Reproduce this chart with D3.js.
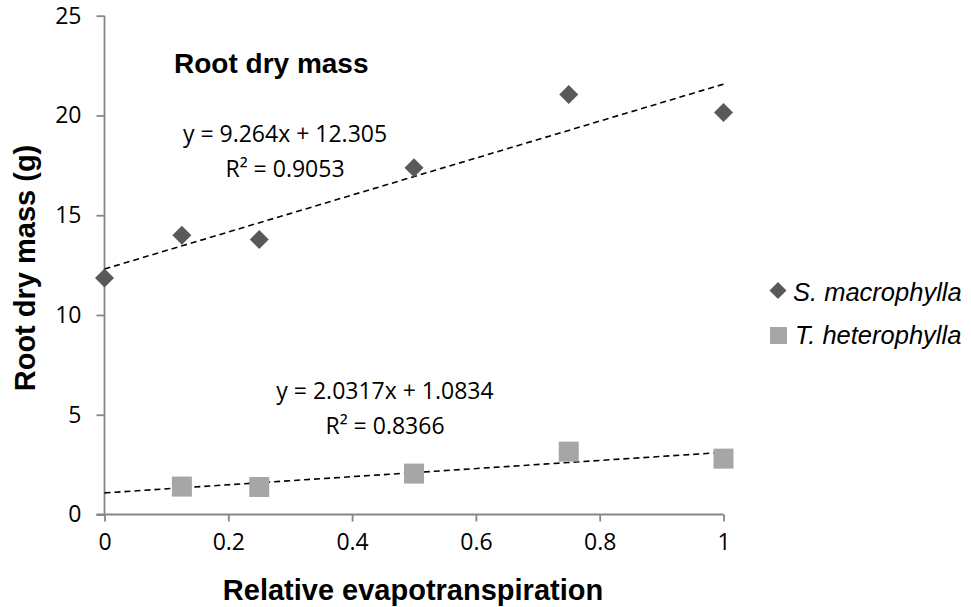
<!DOCTYPE html>
<html>
<head>
<meta charset="utf-8">
<script src="https://cdn.jsdelivr.net/npm/d3@7"></script>
<style>
  html, body { margin: 0; padding: 0; background: #fff; }
  svg { display: block; }
</style>
</head>
<body>
<svg id="chart" width="971" height="607"></svg>
<script>
// Relative evapotranspiration levels and root dry mass (g) per species
const sMacroX = [0, 0.125, 0.25, 0.5, 0.75, 1];
const sMacroY = [11.85, 14.0, 13.78, 17.38, 21.05, 20.15];
const tHeteroX = [0.125, 0.25, 0.5, 0.75, 1];
const tHeteroY = [1.4, 1.38, 2.05, 3.15, 2.8];

// Linear trend lines (slope, intercept) and their labels
const sMacroFit = [9.264, 12.305];
const tHeteroFit = [2.0317, 1.0834];
const sMacroEq = ["y = 9.264x + 12.305", "R\u00B2 = 0.9053"];
const tHeteroEq = ["y = 2.0317x + 1.0834", "R\u00B2 = 0.8366"];

const xTicks = [0, 0.2, 0.4, 0.6, 0.8, 1];
const yTicks = [0, 5, 10, 15, 20, 25];
const seriesNames = ["S. macrophylla", "T. heterophylla"];

const chartTitle = "Root dry mass";
const xTitle = "Relative evapotranspiration";
const yTitle = "Root dry mass (g)";

const svg = d3.select("#chart");
const axisColor = "#868686";
const diamondColor = "#595959";
const squareColor = "#a6a6a6";
const numFont = "'Open Sans', 'Noto Sans', sans-serif";
const boldFont = "'Liberation Sans', Arial, sans-serif";

const x = d3.scaleLinear().domain([0, 1]).range([104.5, 723.5]);
const y = d3.scaleLinear().domain([0, 25]).range([514.5, 15.7]);

// Y axis
const yAxis = svg.append("g")
  .attr("transform", `translate(${x(0)},0)`)
  .call(d3.axisLeft(y).tickValues(yTicks).tickFormat(d3.format("d")).tickSize(8).tickPadding(15));
yAxis.select(".domain").attr("stroke", axisColor).attr("stroke-width", 1.8).attr("d", `M0,${y(25)}V${y(0)}`);
yAxis.selectAll(".tick line").attr("stroke", axisColor).attr("stroke-width", 1.8);
yAxis.selectAll(".tick text")
  .attr("font-family", numFont).attr("font-size", 23).attr("fill", "#000");

// X axis
const xAxis = svg.append("g")
  .attr("transform", `translate(0,${y(0)})`)
  .call(d3.axisBottom(x).tickValues(xTicks).tickFormat(d => d3.format("~g")(d)).tickSize(7).tickPadding(12));
xAxis.select(".domain").attr("stroke", axisColor).attr("stroke-width", 1.8).attr("d", `M${x(0) - 8},0H${x(1)}`);
xAxis.selectAll(".tick line").attr("stroke", axisColor).attr("stroke-width", 1.8);
xAxis.selectAll(".tick text")
  .attr("font-family", numFont).attr("font-size", 23).attr("fill", "#000");

// Trend lines
const fitLine = (fit) => [[0, fit[1]], [1, fit[0] + fit[1]]];
const line = d3.line().x(d => x(d[0])).y(d => y(d[1]));
[sMacroFit, tHeteroFit].forEach(fit => {
  svg.append("path")
    .attr("d", line(fitLine(fit)))
    .attr("fill", "none")
    .attr("stroke", "#000")
    .attr("stroke-width", 1.6)
    .attr("stroke-dasharray", "6,4");
});

// Markers
const diamond = d3.symbol().type(d3.symbolSquare).size(180);
svg.append("g").selectAll("path")
  .data(sMacroX.map((v, i) => [v, sMacroY[i]]))
  .join("path")
  .attr("d", diamond)
  .attr("transform", d => `translate(${x(d[0])},${y(d[1])}) rotate(45)`)
  .attr("fill", diamondColor);

const sq = 20;
svg.append("g").selectAll("rect")
  .data(tHeteroX.map((v, i) => [v, tHeteroY[i]]))
  .join("rect")
  .attr("x", d => x(d[0]) - sq / 2)
  .attr("y", d => y(d[1]) - sq / 2)
  .attr("width", sq)
  .attr("height", sq)
  .attr("fill", squareColor);

// Trend equations
function equation(lines, cx, baseline) {
  lines.forEach((t, i) => {
    svg.append("text")
      .attr("x", cx).attr("y", baseline + i * 35)
      .attr("text-anchor", "middle")
      .attr("font-family", numFont).attr("font-size", 23)
      .attr("fill", "#000")
      .text(t);
  });
}
equation(sMacroEq, 285, 142);
equation(tHeteroEq, 385, 399);

// Titles
svg.append("text")
  .attr("x", 174).attr("y", 73)
  .attr("font-family", boldFont).attr("font-weight", "bold").attr("font-size", 28)
  .attr("fill", "#000").text(chartTitle);

svg.append("text")
  .attr("x", 413).attr("y", 600)
  .attr("text-anchor", "middle")
  .attr("font-family", boldFont).attr("font-weight", "bold").attr("font-size", 29)
  .attr("fill", "#000").text(xTitle);

svg.append("text")
  .attr("transform", "translate(35,268) rotate(-90)")
  .attr("text-anchor", "middle")
  .attr("font-family", boldFont).attr("font-weight", "bold").attr("font-size", 29)
  .attr("fill", "#000").text(yTitle);

// Legend
const legend = svg.append("g");
legend.append("path")
  .attr("d", d3.symbol().type(d3.symbolSquare).size(145))
  .attr("transform", "translate(778,290.5) rotate(45)")
  .attr("fill", diamondColor);
legend.append("rect")
  .attr("x", 770).attr("y", 327).attr("width", 17).attr("height", 17)
  .attr("fill", squareColor);
legend.selectAll("text")
  .data(seriesNames)
  .join("text")
  .attr("x", (d, i) => i === 0 ? 793 : 795)
  .attr("y", (d, i) => i === 0 ? 300.5 : 344)
  .attr("font-family", boldFont).attr("font-style", "italic").attr("font-size", 25.5)
  .attr("fill", "#000")
  .text(d => d);
</script>
</body>
</html>
